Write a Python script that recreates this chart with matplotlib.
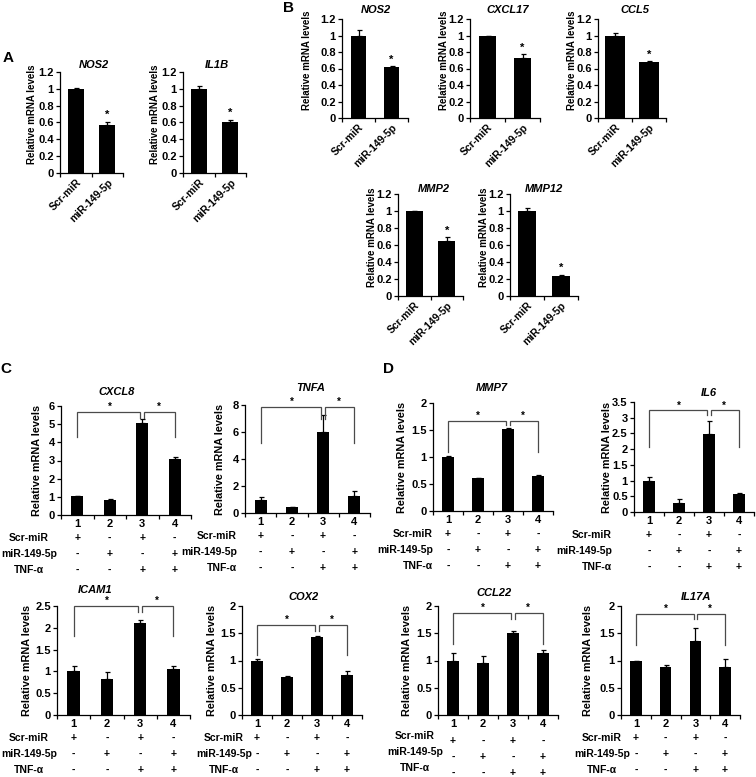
import numpy as np
import matplotlib
matplotlib.use('Agg')
import matplotlib.pyplot as plt

plt.rcParams['font.family'] = ['Liberation Sans', 'DejaVu Sans']
plt.rcParams['font.weight'] = 'bold'
plt.rcParams['axes.linewidth'] = 0.9

W, H = 756, 777

# ---------------- datos ----------------
grupos_2 = ['Scr-miR', 'miR-149-5p']

# panel A
a_nos2 = [1.00, 0.57]
a_nos2_err = [0.01, 0.04]
a_il1b = [1.00, 0.61]
a_il1b_err = [0.03, 0.02]

# panel B
b_nos2 = [1.00, 0.62]
b_nos2_err = [0.07, 0.01]
b_cxcl17 = [1.00, 0.73]
b_cxcl17_err = [0.00, 0.04]
b_ccl5 = [1.00, 0.68]
b_ccl5_err = [0.03, 0.01]
b_mmp2 = [1.00, 0.65]
b_mmp2_err = [0.00, 0.04]
b_mmp12 = [1.00, 0.23]
b_mmp12_err = [0.04, 0.02]

# paneles C y D
grupos_4 = ['1', '2', '3', '4']
fila_scr = ['+', '-', '+', '-']
fila_mir = ['-', '+', '-', '+']
fila_tnf = ['-', '-', '+', '+']
filas_nombre = ['Scr-miR', 'miR-149-5p', 'TNF-α']

c_cxcl8 = [1.02, 0.80, 5.05, 3.10]
c_cxcl8_err = [0.03, 0.06, 0.22, 0.10]
c_tnfa = [1.00, 0.45, 6.00, 1.25]
c_tnfa_err = [0.15, 0.03, 1.26, 0.40]
c_icam1 = [1.00, 0.83, 2.10, 1.05]
c_icam1_err = [0.12, 0.15, 0.08, 0.07]
c_cox2 = [1.00, 0.69, 1.44, 0.73]
c_cox2_err = [0.03, 0.02, 0.01, 0.07]

d_mmp7 = [1.00, 0.61, 1.52, 0.64]
d_mmp7_err = [0.01, 0.01, 0.02, 0.03]
d_il6 = [1.00, 0.30, 2.48, 0.58]
d_il6_err = [0.10, 0.10, 0.40, 0.04]
d_ccl22 = [1.00, 0.95, 1.50, 1.13]
d_ccl22_err = [0.14, 0.13, 0.05, 0.07]
d_il17a = [1.00, 0.88, 1.35, 0.88]
d_il17a_err = [0.00, 0.03, 0.25, 0.15]

# corchetes de significancia: (altura, pata exterior, pata central)
c_cxcl8_sig = (5.67, 4.30, 5.34)
c_tnfa_sig = (7.88, 5.17, 7.00)
c_icam1_sig = (2.50, 1.82, 2.37)
c_cox2_sig = (1.65, 1.11, 1.54)
d_mmp7_sig = (1.67, 1.09, 1.60)
d_il6_sig = (3.23, 2.07, 3.08)
d_ccl22_sig = (1.87, 1.31, 1.77)
d_il17a_sig = (1.85, 1.28, 1.76)


def caja(l, t, r, b):
    return [l / W, 1 - b / H, (r - l) / W, (b - t) / H]


def fmt(v):
    return f'{round(v, 2):g}'


fig = plt.figure(figsize=(W / 100, H / 100), dpi=100)


def base(ax, bx, gen, n, ymax, paso, yl_off, tx, tpad, ylab_fs, ylab_y, tick_fs):
    l, t, r, b = bx
    ax.set_xlim(-0.5, n - 0.5)
    ax.set_ylim(0, ymax)
    yt = np.arange(0, ymax + paso / 2, paso)
    ax.set_yticks(yt)
    ax.set_yticklabels([fmt(v) for v in yt], fontsize=tick_fs)
    ax.spines[['top', 'right']].set_visible(False)
    ax.set_xticks(np.arange(n + 1) - 0.5, minor=True)
    ax.tick_params(axis='x', which='minor', length=3, width=0.9)
    ax.tick_params(axis='x', which='major', length=0)
    ax.tick_params(axis='y', length=3, width=0.9, pad=1.5)
    # titulo (gen en cursiva)
    ax.text((tx - l) / (r - l), 1 + tpad / (b - t), gen, transform=ax.transAxes,
            style='italic', fontsize=8, ha='center', va='bottom')
    ax.text(-yl_off / (r - l), ylab_y, 'Relative mRNA levels', transform=ax.transAxes,
            rotation=90, ha='center', va='center', fontsize=ylab_fs)


# ---------- A y B ----------
paneles_ab = [
    ('NOS2', a_nos2, a_nos2_err, (60, 72, 123, 173), 0.5, 28, 94, 2),
    ('IL1B', a_il1b, a_il1b_err, (183, 72, 246, 173), 0.5, 28, 217, 2),
    ('NOS2', b_nos2, b_nos2_err, (342, 19, 408, 118), 0.45, 35, 376, 4),
    ('CXCL17', b_cxcl17, b_cxcl17_err, (470, 19, 540, 118), 0.5, 26, 508, 4),
    ('CCL5', b_ccl5, b_ccl5_err, (598, 19, 666, 118), 0.6, 26, 635, 4),
    ('MMP2', b_mmp2, b_mmp2_err, (398, 194, 463, 296), 0.52, 26, 434, 0),
    ('MMP12', b_mmp12, b_mmp12_err, (510, 194, 578, 296), 0.52, 26, 544, 0),
]

for gen, vals, err, bx, bw, yl_off, tx, tpad in paneles_ab:
    ax = fig.add_axes(caja(*bx))
    x = np.arange(len(vals))
    ax.bar(x, vals, bw, color='black',
           yerr=[np.zeros(len(err)), err],
           error_kw=dict(ecolor='black', elinewidth=0.9, capsize=1.8, capthick=0.9))
    base(ax, bx, gen, 2, 1.2, 0.2, yl_off, tx, tpad, 7, 0.58, 8)
    ax.set_xticks(x)
    ax.set_xticklabels(grupos_2, rotation=45, ha='right', va='top',
                       rotation_mode='anchor', fontsize=7.5)
    ax.tick_params(axis='x', which='major', pad=3)
    ax.text(1, vals[1] + err[1] + 0.02, '*', ha='center', va='bottom', fontsize=8)

# ---------- C y D ----------
# (gen, vals, err, sig, caja, ymax, paso, yl_off, titulo x, titulo pad,
#  x etiqueta filas, ha, desplaz. etiquetas, desplaz. signos)
paneles_cd = [
    ('CXCL8', c_cxcl8, c_cxcl8_err, c_cxcl8_sig, (61, 406, 191, 515), 6, 1, 24, 117, 9, 29, 'center', 0, 0),
    ('TNFA', c_tnfa, c_tnfa_err, c_tnfa_sig, (245, 405, 370, 513), 8, 2, 25, 311, 12, 237, 'right', 0, 0),
    ('ICAM1', c_icam1, c_icam1_err, c_icam1_sig, (57, 606, 190, 715), 2.5, 0.5, 30, 95, 11, 29, 'center', 0, 0),
    ('COX2', c_cox2, c_cox2_err, c_cox2_sig, (242, 606, 362, 715), 2, 0.5, 30, 304, 4, 224, 'center', 0, 0),
    ('MMP7', d_mmp7, d_mmp7_err, d_mmp7_sig, (433, 403, 553, 511), 2, 0.5, 31, 492, 10, 433, 'right', 0, 0),
    ('IL6', d_il6, d_il6_err, d_il6_sig, (634, 402, 754, 512), 3.5, 0.5, 27, 709, 4, 612, 'right', 0, 0),
    ('CCL22', d_ccl22, d_ccl22_err, d_ccl22_sig, (438, 606, 558, 715), 2, 0.5, 31, 494, 8, 415, 'center', -2, 3),
    ('IL17A', d_il17a, d_il17a_err, d_il17a_sig, (621, 606, 740, 715), 2, 0.5, 33, 696, 4, 602, 'center', 0, 0),
]

gris = '#4a4a4a'
filas_off = [23, 39, 55]

for (gen, vals, err, sig, bx, ymax, paso, yl_off, tx, tpad,
     lab_x, lab_ha, lshift, sshift) in paneles_cd:
    ax = fig.add_axes(caja(*bx))
    x = np.arange(len(vals))
    ax.bar(x, vals, 0.38, color='black',
           yerr=[np.zeros(len(err)), err],
           error_kw=dict(ecolor='black', elinewidth=0.9, capsize=1.8, capthick=0.9))
    base(ax, bx, gen, 4, ymax, paso, yl_off, tx, tpad, 7.8, 0.5, 8)
    ax.set_xticks(x)
    ax.set_xticklabels(grupos_4, fontsize=8)
    ax.tick_params(axis='x', which='major', pad=3)

    # corchetes 1-3 y 3-4
    yb, ypie, ymid = sig
    d = 0.06
    ax.plot([0, 0, 2 - d, 2 - d], [ypie, yb, yb, ymid], color=gris, lw=0.9,
            clip_on=False, solid_joinstyle='miter')
    ax.plot([2 + d, 2 + d, 3, 3], [ymid, yb, yb, ypie], color=gris, lw=0.9,
            clip_on=False, solid_joinstyle='miter')
    ax.text(1, yb, '*', ha='center', va='bottom', fontsize=7)
    ax.text(2.5, yb, '*', ha='center', va='bottom', fontsize=7)

    # tabla de tratamientos
    l, t, r, b = bx
    for k, (nombre, fila) in enumerate(zip(filas_nombre, [fila_scr, fila_mir, fila_tnf])):
        off = filas_off[k]
        ax.annotate(nombre, xy=(0, 0), xycoords='axes fraction',
                    xytext=((lab_x - l) * 0.72, -(off + lshift) * 0.72), textcoords='offset points',
                    ha=lab_ha, va='center', fontsize=7.5, annotation_clip=False)
        for i, s in enumerate(fila):
            ax.annotate(s, xy=(i, 0), xycoords=('data', 'axes fraction'),
                        xytext=(0, -(off + sshift) * 0.72), textcoords='offset points',
                        ha='center', va='center', fontsize=7.5, annotation_clip=False)

# letras de panel
for letra, px, py in [('A', 8, 58), ('B', 288, 8), ('C', 6, 369), ('D', 389, 369)]:
    fig.text(px / W, 1 - py / H, letra, ha='center', va='center', fontsize=11)

fig.savefig('out.png', dpi=100)
